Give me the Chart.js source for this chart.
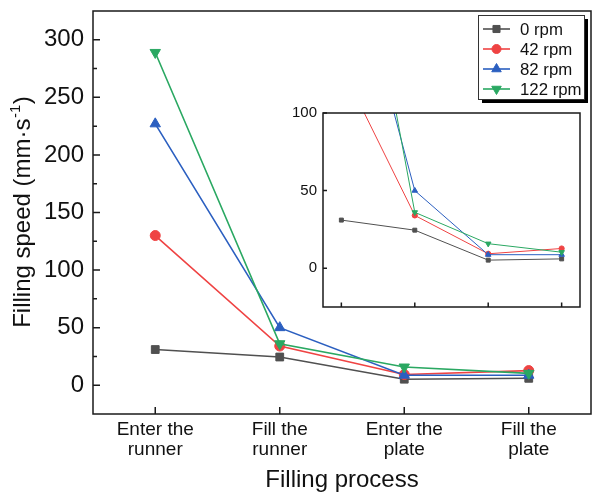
<!DOCTYPE html>
<html><head><meta charset="utf-8">
<script src="https://cdn.jsdelivr.net/npm/chart.js@4.4.1/dist/chart.umd.min.js"></script>
<style>
html,body{margin:0;padding:0;background:#fff;}
#wrap{position:relative;width:592px;height:495px;overflow:hidden;}
#main{position:absolute;left:0;top:0;}
#inset{position:absolute;left:260px;top:100px;}
</style></head><body>
<div id="wrap"><canvas id="main" width="592" height="495"></canvas><canvas id="inset" width="330" height="215"></canvas></div>
<script>
// ---- data ----
const categories = [['Enter the','runner'],['Fill the','runner'],['Enter the','plate'],['Fill the','plate']];
const seriesNames = ['0 rpm','42 rpm','82 rpm','122 rpm'];
const rpm0   = [31, 24.5, 5.2, 6];
const rpm42  = [130, 34, 9.3, 12.7];
const rpm82  = [227, 50, 8.7, 8.7];
const rpm122 = [289, 36, 15.8, 10.3];
const mainYTicks  = [0, 50, 100, 150, 200, 250, 300];
const mainYMinor  = [25, 75, 125, 175, 225, 275];
const insetYTicks = [0, 50, 100];
const insetXTicks = [0, 1, 2, 3];
const xTitle = 'Filling process';
const yTitleMain = 'Filling speed (mm·s';
const yTitleSup = '-1';
const yTitleEnd = ')';

// ---- styles ----
const FONT = '"Liberation Sans", Arial, sans-serif';
Chart.defaults.font.family = FONT;
Chart.defaults.color = '#111';
const colors = ['#505050', '#ef4343', '#2b5fc0', '#2aa862'];
const styles = ['rect', 'circle', 'triangle', 'triangle'];
const rotations = [0, 0, 0, 180];
const radiiMain = [5.5, 5, 6, 6];
const radiiInset = [2.8, 2.6, 3.2, 3.2];
const allSeries = [rpm0, rpm42, rpm82, rpm122];

function makeDatasets(inset) {
  return allSeries.map((vals, i) => ({
    label: seriesNames[i],
    data: inset ? vals.map((v, k) => ({x: k, y: v})) : vals,
    borderColor: colors[i],
    backgroundColor: colors[i],
    pointBackgroundColor: colors[i],
    pointBorderColor: colors[i],
    pointBorderWidth: 1,
    pointStyle: styles[i],
    pointRotation: rotations[i],
    pointRadius: inset ? radiiInset[i] : radiiMain[i],
    borderWidth: inset ? 1 : 1.6,
    tension: 0,
    fill: false,
    order: 4 - i
  }));
}

function zeroPad(s) { s.paddingTop = 0; s.paddingBottom = 0; s.paddingLeft = 0; s.paddingRight = 0; }

const frameColor = '#1a1a1a';

const mainDecor = {
  id: 'mainDecor',
  afterDraw(chart) {
    const {ctx, chartArea: a, scales} = chart;
    ctx.save();
    ctx.strokeStyle = frameColor;
    ctx.lineWidth = 1.5;
    ctx.strokeRect(a.left, a.top, a.right - a.left, a.bottom - a.top);
    ctx.beginPath();
    categories.forEach((c, i) => {
      const px = scales.x.getPixelForValue(i);
      ctx.moveTo(px, a.bottom); ctx.lineTo(px, a.bottom - 7);
    });
    mainYTicks.forEach(v => {
      const py = scales.y.getPixelForValue(v);
      ctx.moveTo(a.left, py); ctx.lineTo(a.left + 7, py);
    });
    mainYMinor.forEach(v => {
      const py = scales.y.getPixelForValue(v);
      ctx.moveTo(a.left, py); ctx.lineTo(a.left + 4, py);
    });
    ctx.stroke();

    // y title with superscript
    ctx.fillStyle = '#111';
    ctx.translate(30, (a.top + a.bottom) / 2);
    ctx.rotate(-Math.PI / 2);
    ctx.textBaseline = 'alphabetic';
    ctx.textAlign = 'left';
    const big = '24px ' + FONT, small = '15px ' + FONT;
    ctx.font = big; const w1 = ctx.measureText(yTitleMain).width; const w3 = ctx.measureText(yTitleEnd).width;
    ctx.font = small; const w2 = ctx.measureText(yTitleSup).width;
    let x0 = -(w1 + w2 + w3) / 2;
    ctx.font = big; ctx.fillText(yTitleMain, x0, 0);
    ctx.font = small; ctx.fillText(yTitleSup, x0 + w1 + 0.5, -10);
    ctx.font = big; ctx.fillText(yTitleEnd, x0 + w1 + w2 + 1, 0);
    ctx.restore();

    // legend
    ctx.save();
    const bx = 478, by = 15, bw = 106, bh = 84;
    ctx.fillStyle = '#000';
    ctx.fillRect(bx + 4, by + 4, bw, bh);
    ctx.fillStyle = '#fff';
    ctx.fillRect(bx, by, bw, bh);
    ctx.strokeStyle = '#333';
    ctx.lineWidth = 1;
    ctx.strokeRect(bx + 0.5, by + 0.5, bw, bh);
    ctx.font = '16.8px ' + FONT;
    ctx.textBaseline = 'middle';
    ctx.textAlign = 'left';
    seriesNames.forEach((name, i) => {
      const y = 29 + i * 20;
      ctx.strokeStyle = colors[i];
      ctx.lineWidth = 1.6;
      ctx.beginPath(); ctx.moveTo(483, y); ctx.lineTo(510, y); ctx.stroke();
      ctx.fillStyle = colors[i];
      ctx.lineWidth = 1;
      Chart.helpers.drawPoint(ctx, {pointStyle: styles[i], rotation: rotations[i], radius: radiiMain[i] - 0.5, borderWidth: 1}, 496.5, y);
      ctx.fillStyle = '#111';
      ctx.fillText(name, 520, y + 1);
    });
    ctx.restore();
  }
};

new Chart(document.getElementById('main'), {
  type: 'line',
  data: { labels: categories, datasets: makeDatasets(false) },
  options: {
    responsive: false, animation: false,
    layout: { autoPadding: false, padding: { top: 11, right: 1, left: 0, bottom: 0 } },
    plugins: { legend: { display: false }, tooltip: { enabled: false } },
    scales: {
      x: {
        type: 'category', offset: true,
        grid: { display: false, drawTicks: false }, border: { display: false },
        ticks: { font: { size: 19, lineHeight: 1.05 }, color: '#111', padding: 6, maxRotation: 0, autoSkip: false },
        title: { display: true, text: xTitle, font: { size: 24, lineHeight: 1.2 }, padding: 0, color: '#111' },
        afterFit(s) { s.height = 81; zeroPad(s); }
      },
      y: {
        min: -25, max: 325,
        afterBuildTicks(s) { s.ticks = mainYTicks.map(v => ({ value: v })); },
        grid: { display: false, drawTicks: false }, border: { display: false },
        ticks: { font: { size: 24 }, color: '#111', padding: 9 },
        afterFit(s) { s.width = 93; zeroPad(s); }
      }
    }
  },
  plugins: [mainDecor]
});

const insetDecor = {
  id: 'insetDecor',
  afterDraw(chart) {
    const {ctx, chartArea: a, scales} = chart;
    ctx.save();
    ctx.strokeStyle = frameColor;
    ctx.lineWidth = 1.5;
    ctx.strokeRect(a.left, a.top, a.right - a.left, a.bottom - a.top);
    ctx.beginPath();
    insetXTicks.forEach(v => {
      const px = scales.x.getPixelForValue(v);
      ctx.moveTo(px, a.bottom); ctx.lineTo(px, a.bottom - 4.5);
    });
    insetYTicks.forEach(v => {
      const py = scales.y.getPixelForValue(v);
      ctx.moveTo(a.left, py); ctx.lineTo(a.left + 4, py);
    });
    ctx.stroke();
    ctx.restore();
  }
};

new Chart(document.getElementById('inset'), {
  type: 'line',
  data: { datasets: makeDatasets(true) },
  options: {
    responsive: false, animation: false,
    layout: { autoPadding: false, padding: { top: 13, right: 10, left: 0, bottom: 0 } },
    plugins: { legend: { display: false }, tooltip: { enabled: false } },
    scales: {
      x: {
        type: 'linear', min: -0.25, max: 3.25,
        afterBuildTicks(s) { s.ticks = insetXTicks.map(v => ({ value: v })); },
        grid: { display: false, drawTicks: false }, border: { display: false },
        ticks: { display: false },
        afterFit(s) { s.height = 8; zeroPad(s); }
      },
      y: {
        min: -25, max: 100,
        afterBuildTicks(s) { s.ticks = insetYTicks.map(v => ({ value: v })); },
        grid: { display: false, drawTicks: false }, border: { display: false },
        ticks: { font: { size: 15 }, color: '#111', padding: 6 },
        afterFit(s) { s.width = 63; zeroPad(s); }
      }
    }
  },
  plugins: [insetDecor]
});
</script>
</body></html>
